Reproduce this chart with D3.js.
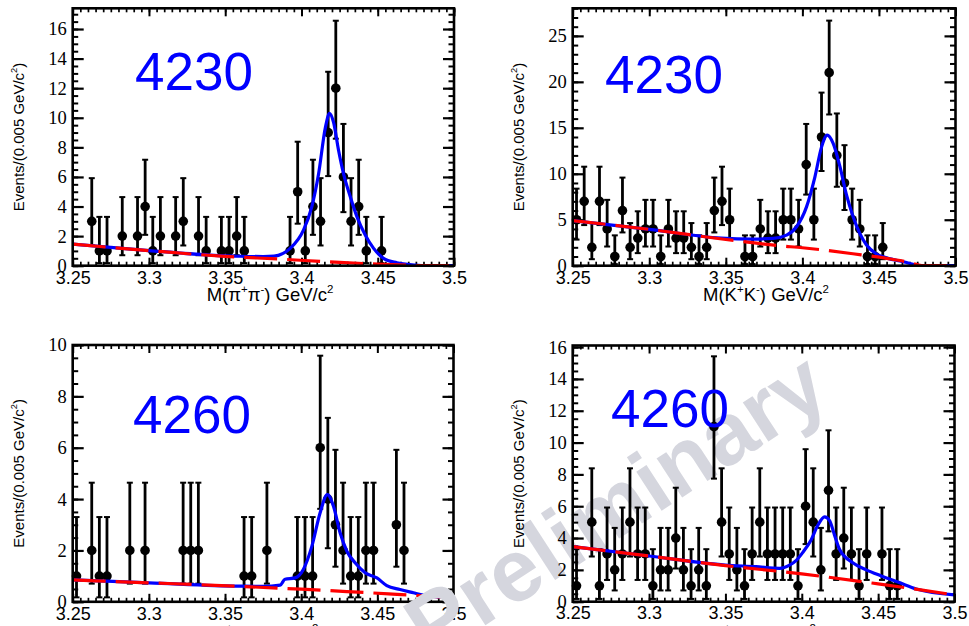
<!DOCTYPE html>
<html>
<head>
<meta charset="utf-8">
<script src="https://cdn.jsdelivr.net/npm/d3@7"></script>
<style>
  html, body { margin: 0; padding: 0; background: #fff; }
  svg { display: block; }
</style>
</head>
<body>
<svg id="chart" width="969" height="626"></svg>
<script>
// ---- data: bin centres (GeV/c^2) of 0.005 GeV/c^2 bins and event counts (empty bins omitted)
const pipi4230Mass = [3.2625, 3.2675, 3.2725, 3.2825, 3.2925, 3.2975, 3.3025, 3.3075, 3.3175, 3.3225,
  3.3325, 3.3375, 3.3475, 3.3525, 3.3575, 3.3625, 3.3925, 3.3975, 3.4025, 3.4075,
  3.4125, 3.4175, 3.4225, 3.4275, 3.4325, 3.4375, 3.4425, 3.4525];
const pipi4230Counts = [3, 1, 1, 2, 2, 4, 1, 2, 2, 3,
  2, 1, 1, 1, 2, 1, 1, 5, 1, 4,
  3, 9, 12, 6, 3, 4, 1, 1];

const kk4230Mass = [3.2525, 3.2575, 3.2625, 3.2675, 3.2725, 3.2775, 3.2825, 3.2875, 3.2925, 3.2975,
  3.3025, 3.3075, 3.3125, 3.3175, 3.3225, 3.3275, 3.3325, 3.3375, 3.3425, 3.3475,
  3.3525, 3.3625, 3.3675, 3.3725, 3.3775, 3.3825, 3.3875, 3.3925, 3.3975, 3.4025,
  3.4075, 3.4125, 3.4175, 3.4225, 3.4275, 3.4325, 3.4375, 3.4425, 3.4475, 3.4525];
const kk4230Counts = [5, 7, 2, 7, 4, 1, 6, 2, 3, 4,
  4, 1, 4, 3, 3, 2, 1, 2, 6, 7,
  5, 1, 1, 4, 3, 3, 5, 5, 4, 11,
  5, 14, 21, 12, 9, 5, 4, 1, 1, 2];

const pipi4260Mass = [3.2525, 3.2625, 3.2675, 3.2725, 3.2875, 3.2975, 3.3225, 3.3275, 3.3325, 3.3625,
  3.3675, 3.3775, 3.3975, 3.4025, 3.4075, 3.4125, 3.4175, 3.4225, 3.4275, 3.4325,
  3.4375, 3.4425, 3.4475, 3.4625, 3.4675];
const pipi4260Counts = [1, 2, 1, 1, 2, 2, 2, 2, 2, 1,
  1, 2, 1, 1, 1, 6, 4, 3, 2, 1,
  1, 2, 2, 3, 2];

const kk4260Mass = [3.2525, 3.2625, 3.2675, 3.2725, 3.2775, 3.2825, 3.2875, 3.2925, 3.2975, 3.3025,
  3.3075, 3.3125, 3.3175, 3.3225, 3.3275, 3.3325, 3.3375, 3.3425, 3.3475, 3.3525,
  3.3575, 3.3625, 3.3675, 3.3725, 3.3775, 3.3825, 3.3875, 3.3925, 3.3975, 3.4025,
  3.4075, 3.4125, 3.4175, 3.4225, 3.4275, 3.4325, 3.4375, 3.4425, 3.4525, 3.4575,
  3.4625];
const kk4260Counts = [1, 5, 1, 3, 2, 3, 5, 3, 3, 1,
  2, 2, 4, 2, 1, 2, 1, 11, 5, 3,
  2, 1, 3, 5, 3, 3, 3, 3, 1, 6,
  5, 2, 7, 3, 4, 3, 1, 3, 3, 1,
  1];

// ---- fitted curves: total PDF (signal + background) and background only
const pipi4230FitMass = [3.25, 3.30, 3.34, 3.36, 3.375, 3.382, 3.3926, 3.4013, 3.4068, 3.4112, 3.4156, 3.4184,
  3.421, 3.4243, 3.4276, 3.432, 3.4364, 3.4418, 3.4473, 3.4538, 3.4626, 3.475, 3.48, 3.5];
const pipi4230FitYield = [1.46, 1.02, 0.72, 0.64, 0.62, 0.65, 1.17, 2.4, 4.0, 6.2, 9.3, 10.3,
  9.7, 7.8, 6.2, 4.66, 3.3, 2.07, 1.17, 0.5, 0.2, 0.04, 0, 0];
const pipi4230BkgMass = [3.25, 3.30, 3.35, 3.385, 3.425, 3.45, 3.47, 3.48, 3.5];
const pipi4230BkgYield = [1.46, 1.02, 0.63, 0.45, 0.22, 0.11, 0.03, 0, 0];

const kk4230FitMass = [3.25, 3.30, 3.347, 3.3677, 3.3808, 3.3897, 3.3962, 3.4027, 3.4082, 3.4125, 3.4162,
  3.4201, 3.4245, 3.4288, 3.4332, 3.4375, 3.4419, 3.4484, 3.455, 3.4658, 3.478, 3.5];
const kk4230FitYield = [4.9, 3.95, 3.0, 2.9, 2.97, 3.33, 4.24, 6.4, 9.67, 12.9, 14.2,
  13.3, 10.8, 7.7, 5.3, 3.5, 2.25, 1.27, 0.85, 0.43, 0, 0];
const kk4230BkgMass = [3.25, 3.30, 3.35, 3.385, 3.40, 3.4165, 3.433, 3.455, 3.47, 3.478, 3.5];
const kk4230BkgYield = [4.9, 3.95, 2.85, 2.17, 1.95, 1.65, 1.3, 0.8, 0.35, 0, 0];

const pipi4260FitMass = [3.25, 3.30, 3.36, 3.375, 3.3862, 3.3894, 3.396, 3.4014, 3.407, 3.4124, 3.4172,
  3.4212, 3.4256, 3.43, 3.4354, 3.442, 3.4497, 3.4562, 3.4649, 3.4737, 3.4792, 3.5];
const pipi4260FitYield = [0.85, 0.74, 0.61, 0.6, 0.65, 0.88, 0.93, 1.26, 2.16, 3.46, 4.17,
  3.72, 2.68, 1.97, 1.52, 1.13, 0.93, 0.63, 0.48, 0.35, 0.27, 0.16];
const pipi4260BkgMass = [3.25, 3.30, 3.36, 3.40, 3.43, 3.46, 3.5];
const pipi4260BkgYield = [0.85, 0.74, 0.6, 0.49, 0.4, 0.3, 0.16];

const kk4260FitMass = [3.25, 3.30, 3.35, 3.37, 3.3855, 3.392, 3.3964, 3.4007, 3.4062, 3.4105, 3.4149,
  3.4182, 3.4214, 3.4247, 3.4334, 3.4422, 3.452, 3.4639, 3.475, 3.5];
const kk4260FitYield = [3.46, 2.87, 2.3, 2.2, 2.1, 2.3, 2.6, 3.1, 3.9, 4.8, 5.33,
  5.1, 4.2, 3.3, 2.45, 2.0, 1.62, 1.2, 0.8, 0.43];
const kk4260BkgMass = [3.25, 3.30, 3.35, 3.40, 3.45, 3.5];
const kk4260BkgYield = [3.46, 2.87, 2.27, 1.75, 1.12, 0.43];

// 68.3% central Poisson intervals, indexed by the observed count
const poissonLow = [0, 0.173, 0.708, 1.367, 2.086, 2.840, 3.620, 4.419, 5.232, 6.057, 6.891,
  7.734, 8.585, 9.441, 10.30, 11.17, 12.04, 12.92, 13.80, 14.68, 15.57, 16.45];
const poissonHigh = [1.148, 3.300, 4.638, 5.918, 7.163, 8.382, 9.584, 10.77, 11.95, 13.11, 14.27,
  15.42, 16.56, 17.70, 18.83, 19.96, 21.08, 22.20, 23.32, 24.44, 25.55, 26.66];

// ---- axis labels
const massRange = [3.25, 3.5];
const massTicks = [3.25, 3.3, 3.35, 3.4, 3.45, 3.5];
const energyLabels = ["4230", "4230", "4260", "4260"];
const yTitle = [["Events/(0.005 GeV/c", 0], ["2", 1], [")", 0]];
const pipiTitle = [["M(\u03c0", 0], ["+", 1], ["\u03c0", 0], ["-", 1], [") GeV/c", 0], ["2", 1]];
const kkTitle = [["M(K", 0], ["+", 1], ["K", 0], ["-", 1], [") GeV/c", 0], ["2", 1]];
const watermarkText = "Preliminary";

// ---- layout of the four frames
const panels = [
  { mass: pipi4230Mass, counts: pipi4230Counts, fitM: pipi4230FitMass, fitY: pipi4230FitYield,
    bkgM: pipi4230BkgMass, bkgY: pipi4230BkgYield, label: energyLabels[0], title: pipiTitle,
    left: 72.7, right: 454, top: 8.3, bottom: 265.7, yMax: 17.4, yMajor: 2, yMinor: 0.5,
    labelX: 135, labelY: 90, titleX: 270, titleDy: 35.5, yTitleX: 24 },
  { mass: kk4230Mass, counts: kk4230Counts, fitM: kk4230FitMass, fitY: kk4230FitYield,
    bkgM: kk4230BkgMass, bkgY: kk4230BkgYield, label: energyLabels[1], title: kkTitle,
    left: 572.7, right: 955.5, top: 8.3, bottom: 265.7, yMax: 28, yMajor: 5, yMinor: 1,
    labelX: 605, labelY: 93, titleX: 766, titleDy: 35.5, yTitleX: 524 },
  { mass: pipi4260Mass, counts: pipi4260Counts, fitM: pipi4260FitMass, fitY: pipi4260FitYield,
    bkgM: pipi4260BkgMass, bkgY: pipi4260BkgYield, label: energyLabels[2], title: pipiTitle,
    left: 72.7, right: 453.5, top: 345, bottom: 601.8, yMax: 10, yMajor: 2, yMinor: 0.5,
    labelX: 133, labelY: 433, titleX: 255, titleDy: 38.5, yTitleX: 24 },
  { mass: kk4260Mass, counts: kk4260Counts, fitM: kk4260FitMass, fitY: kk4260FitYield,
    bkgM: kk4260BkgMass, bkgY: kk4260BkgYield, label: energyLabels[3], title: kkTitle,
    left: 572.7, right: 954.5, top: 345.5, bottom: 601.7, yMax: 16.1, yMajor: 2, yMinor: 0.5,
    labelX: 611, labelY: 427, titleX: 753, titleDy: 38.5, yTitleX: 524 }
];

const svg = d3.select("#chart");
const defs = svg.append("defs");
const SANS = "'Liberation Sans', Arial, Helvetica, sans-serif";
const SERIF = "'Liberation Serif', 'Times New Roman', Times, serif";

// text with raised superscript pieces
function richText(sel, parts, size) {
  parts.forEach(([t, sup], k) => {
    const prev = k > 0 ? parts[k - 1][1] : 0;
    const ts = sel.append("tspan").text(t);
    if (sup && !prev) ts.attr("dy", -0.45 * size).attr("font-size", size * 0.62);
    else if (!sup && prev) ts.attr("dy", 0.45 * size);
  });
}

function styleTicks(g, width) {
  g.select(".domain").remove();
  g.selectAll("line").attr("stroke", "#000").attr("stroke-width", width);
}

function drawPanel(p, i) {
  const g = svg.append("g").attr("class", "panel");
  const x = d3.scaleLinear().domain(massRange).range([p.left, p.right]);
  const y = d3.scaleLinear().domain([0, p.yMax]).range([p.bottom, p.top]);

  defs.append("clipPath").attr("id", "frame" + i)
    .append("rect").attr("x", p.left).attr("y", p.top)
    .attr("width", p.right - p.left).attr("height", p.bottom - p.top);

  // tick marks on all four sides, pointing into the frame
  const xMinor = x.ticks(50);
  const yMajorVals = d3.range(0, p.yMax + 1e-9, p.yMajor);
  const yMinorVals = d3.range(0, p.yMax + 1e-9, p.yMinor);

  g.append("g").attr("transform", `translate(0,${p.bottom})`)
    .call(d3.axisBottom(x).tickValues(xMinor).tickSize(-4).tickFormat(""))
    .call(styleTicks, 1.7);
  g.append("g").attr("transform", `translate(0,${p.top})`)
    .call(d3.axisTop(x).tickValues(xMinor).tickSize(-4).tickFormat(""))
    .call(styleTicks, 1.7);
  g.append("g").attr("transform", `translate(0,${p.top})`)
    .call(d3.axisTop(x).tickValues(massTicks).tickSize(-8).tickFormat(""))
    .call(styleTicks, 2);
  const xAxis = g.append("g").attr("transform", `translate(0,${p.bottom})`)
    .call(d3.axisBottom(x).tickValues(massTicks).tickSize(-8).tickPadding(i < 2 ? 6 : 5)
      .tickFormat(d => String(+d.toFixed(2))))
    .call(styleTicks, 2);
  xAxis.selectAll("text").attr("font-family", SANS).attr("font-size", 18).attr("fill", "#000");

  g.append("g").attr("transform", `translate(${p.left},0)`)
    .call(d3.axisLeft(y).tickValues(yMinorVals).tickSize(-5.5).tickFormat(""))
    .call(styleTicks, 2);
  g.append("g").attr("transform", `translate(${p.right},0)`)
    .call(d3.axisRight(y).tickValues(yMinorVals).tickSize(-5.5).tickFormat(""))
    .call(styleTicks, 2);
  g.append("g").attr("transform", `translate(${p.right},0)`)
    .call(d3.axisRight(y).tickValues(yMajorVals).tickSize(-11).tickFormat(""))
    .call(styleTicks, 2.2);
  const yAxis = g.append("g").attr("transform", `translate(${p.left},0)`)
    .call(d3.axisLeft(y).tickValues(yMajorVals).tickSize(-11).tickPadding(6).tickFormat(d3.format("d")))
    .call(styleTicks, 2.2);
  yAxis.selectAll("text").attr("font-family", SERIF).attr("font-size", 18.5).attr("fill", "#000");

  // data points with Poisson error bars
  const pts = p.mass.map((m, k) => ({ m, n: p.counts[k] }));
  const dg = g.append("g").attr("class", "data");
  dg.selectAll("line.err").data(pts).join("line").attr("class", "err")
    .attr("x1", d => x(d.m)).attr("x2", d => x(d.m))
    .attr("y1", d => y(poissonLow[d.n])).attr("y2", d => y(poissonHigh[d.n]))
    .attr("stroke", "#000").attr("stroke-width", 2.8);
  dg.selectAll("line.capHi").data(pts).join("line").attr("class", "capHi")
    .attr("x1", d => x(d.m) - 3).attr("x2", d => x(d.m) + 3)
    .attr("y1", d => y(poissonHigh[d.n])).attr("y2", d => y(poissonHigh[d.n]))
    .attr("stroke", "#000").attr("stroke-width", 2);
  dg.selectAll("line.capLo").data(pts).join("line").attr("class", "capLo")
    .attr("x1", d => x(d.m) - 3).attr("x2", d => x(d.m) + 3)
    .attr("y1", d => y(poissonLow[d.n])).attr("y2", d => y(poissonLow[d.n]))
    .attr("stroke", "#000").attr("stroke-width", 2);
  dg.selectAll("circle").data(pts).join("circle")
    .attr("cx", d => x(d.m)).attr("cy", d => y(d.n)).attr("r", 4.8).attr("fill", "#000");

  // fit curves: total in solid blue, background in dashed red on top
  const line = d3.line().x(d => x(d[0])).y(d => y(d[1])).curve(d3.curveMonotoneX);
  g.append("path").datum(d3.zip(p.fitM, p.fitY)).attr("d", line)
    .attr("fill", "none").attr("stroke", "#0000ff").attr("stroke-width", 3.2)
    .attr("stroke-linejoin", "round").attr("clip-path", `url(#frame${i})`);
  g.append("path").datum(d3.zip(p.bkgM, p.bkgY)).attr("d", line)
    .attr("fill", "none").attr("stroke", "#ff0000").attr("stroke-width", 3.2)
    .attr("stroke-dasharray", "33,10").attr("clip-path", `url(#frame${i})`);

  // frame
  g.append("rect").attr("x", p.left).attr("y", p.top)
    .attr("width", p.right - p.left).attr("height", p.bottom - p.top)
    .attr("fill", "none").attr("stroke", "#000").attr("stroke-width", 2.6);

  // centre-of-mass energy label
  g.append("text").attr("x", p.labelX).attr("y", p.labelY)
    .attr("font-family", SANS).attr("font-size", 53).attr("fill", "#0000ff")
    .text(p.label);

  // axis titles
  const xt = g.append("text").attr("x", p.titleX).attr("y", p.bottom + p.titleDy)
    .attr("text-anchor", "middle").attr("font-family", SANS).attr("font-size", 18.5).attr("fill", "#000");
  richText(xt, p.title, 18.5);
  const yt = g.append("text")
    .attr("transform", `translate(${p.yTitleX},${(p.top + p.bottom) / 2}) rotate(-90)`)
    .attr("text-anchor", "middle").attr("font-family", SANS).attr("font-size", 15).attr("fill", "#000");
  richText(yt, yTitle, 15);
}

panels.slice(0, 3).forEach((p, i) => drawPanel(p, i));

// status watermark across the lower half
svg.append("text")
  .attr("transform", "translate(632,530) rotate(-33)")
  .attr("text-anchor", "middle")
  .attr("font-family", SANS).attr("font-weight", "bold").attr("font-size", 88)
  .attr("fill", "rgb(213,214,222)")
  .text(watermarkText);

drawPanel(panels[3], 3);
</script>
</body>
</html>
